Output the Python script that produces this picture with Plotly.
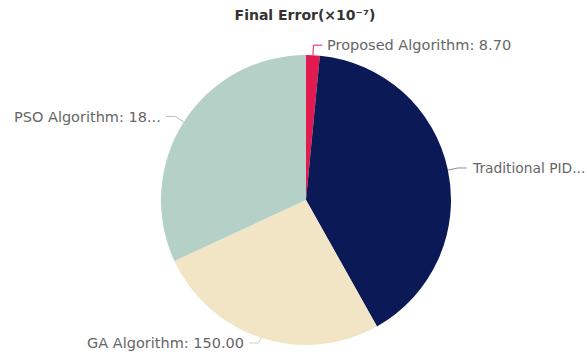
import math
import plotly.graph_objects as go

# Final error of each controller (units of 1e-7)
labels = ["Proposed Algorithm", "Traditional PID", "GA Algorithm", "PSO Algorithm"]
values = [8.70, 230.60, 150.00, 182.40]
colors = ["#e31a4f", "#0b1a57", "#f2e5c6", "#b4d0c7"]
shown_text = ["Proposed Algorithm: 8.70", "Traditional PID...", "GA Algorithm: 150.00", "PSO Algorithm: 18..."]
line_colors = ["#e31a4f", "#8a8fa3", "#d9cfb8", "#a9c3bb"]
label_sizes = [14.5, 13.8, 14.5, 14.5]

W, H = 587, 359
CX, CY, R = 306, 200, 145  # pie centre and radius in pixels
L1, L2 = 10, 9             # leader line segment lengths
GAP = 3                    # space between leader end and label
BOTTOM_LIMIT = H - 16      # keep labels inside the canvas

fig = go.Figure(go.Pie(
    labels=labels,
    values=values,
    marker=dict(colors=colors, line=dict(width=0)),
    sort=False,
    direction="clockwise",
    rotation=0,
    textinfo="none",
    hoverinfo="label+value",
    domain=dict(x=[(CX - R) / W, (CX + R) / W],
                y=[(H - CY - R) / H, (H - CY + R) / H]),
    showlegend=False,
))

def to_paper(px, py):
    return px / W, 1 - py / H

total = sum(values)
start = 0.0
shapes, annotations = [], []
for lab, val, txt, lc, fs in zip(labels, values, shown_text, line_colors, label_sizes):
    span = val / total * 360
    mid = math.radians(start + span / 2)
    start += span
    s, c = math.sin(mid), math.cos(mid)
    x1, y1 = CX + R * s, CY - R * c
    x2, y2 = CX + (R + L1) * s, min(CY - (R + L1) * c, BOTTOM_LIMIT)
    side = 1 if s >= 0 else -1
    x3, y3 = x2 + side * L2, y2
    p1, p2, p3 = to_paper(x1, y1), to_paper(x2, y2), to_paper(x3, y3)
    shapes.append(dict(
        type="path", xref="paper", yref="paper",
        path=f"M {p1[0]} {p1[1]} L {p2[0]} {p2[1]} L {p3[0]} {p3[1]}",
        line=dict(color=lc, width=1),
    ))
    tx, ty = to_paper(x3 + side * GAP, y3)
    annotations.append(dict(
        x=tx, y=ty, xref="paper", yref="paper", text=txt, showarrow=False,
        xanchor="left" if side > 0 else "right", yanchor="middle",
        font=dict(family="DejaVu Sans", size=fs, color="#666666"),
    ))

fig.update_layout(
    width=W, height=H,
    margin=dict(l=0, r=0, t=0, b=0),
    paper_bgcolor="white", plot_bgcolor="white",
    title=dict(text="<b>Final Error(×10⁻⁷)</b>", x=305 / W, y=1 - 15 / H,
               xanchor="center", yanchor="middle",
               font=dict(family="DejaVu Sans", size=14, color="#333333")),
    shapes=shapes,
    annotations=annotations,
)

fig.write_html("out.html")
